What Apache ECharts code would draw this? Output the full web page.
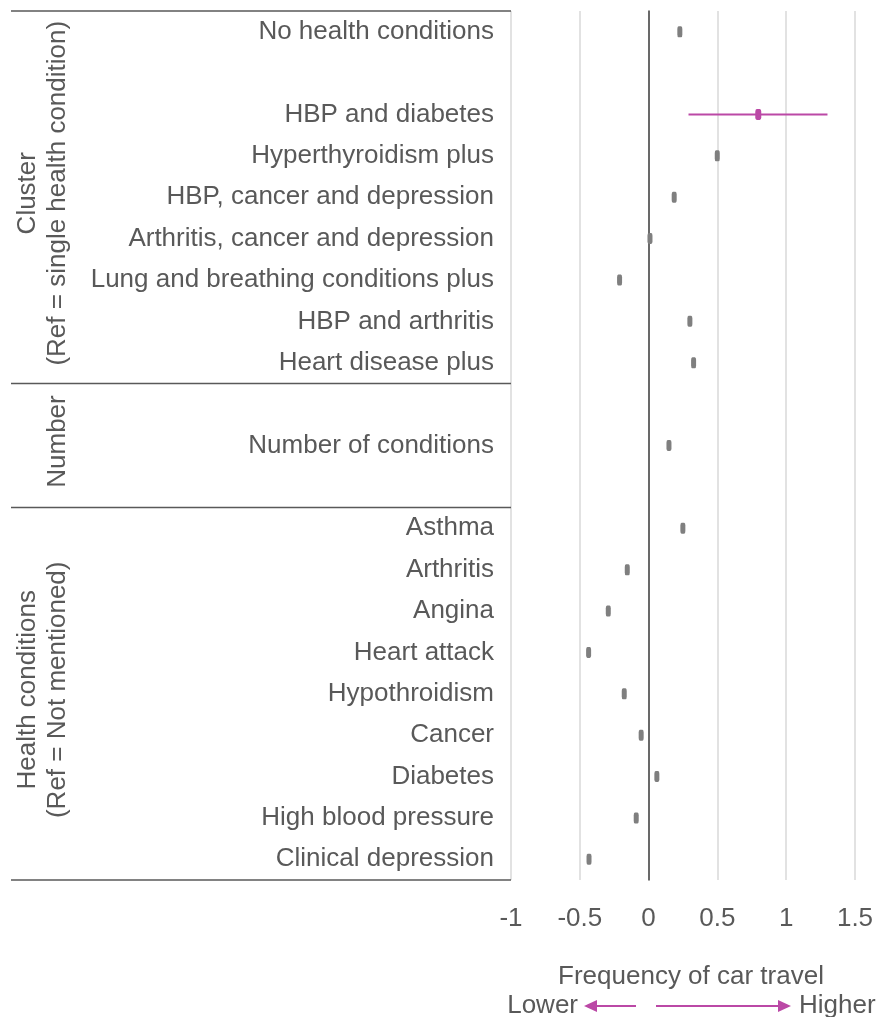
<!DOCTYPE html>
<html>
<head>
<meta charset="utf-8">
<script src="https://cdn.jsdelivr.net/npm/echarts@6/dist/echarts.min.js"></script>
<style>
html,body{margin:0;padding:0;background:#fff;}
#main{width:879px;height:1017px;}
</style>
</head>
<body>
<div id="main"></div>
<script>
// ---- data ----
const categories = [
  'No health conditions', ' ', 'HBP and diabetes', 'Hyperthyroidism plus',
  'HBP, cancer and depression', 'Arthritis, cancer and depression',
  'Lung and breathing conditions plus', 'HBP and arthritis', 'Heart disease plus',
  '  ', 'Number of conditions', '   ',
  'Asthma', 'Arthritis', 'Angina', 'Heart attack', 'Hypothroidism', 'Cancer',
  'Diabetes', 'High blood pressure', 'Clinical depression'
];
const estimates = [
  0.227, null, 0.797, 0.499, 0.186, 0.01, -0.211, 0.30, 0.327,
  null, 0.148, null,
  0.249, -0.155, -0.293, -0.436, -0.177, -0.054, 0.06, -0.09, -0.433
];
const ciCategories = ['HBP and diabetes'];
const ciLower = [0.29];
const ciUpper = [1.30];
const xTicks = [-1, -0.5, 0, 0.5, 1, 1.5];
const groupNames = [
  ['Cluster', '(Ref = single health condition)'],
  ['Number'],
  ['Health conditions', '(Ref = Not mentioned)']
];
const groupFirst = ['No health conditions', '  ', 'Asthma'];
const groupLast = ['Heart disease plus', '   ', 'Clinical depression'];
const axisTitle = 'Frequency of car travel';
const lowLabel = 'Lower';
const highLabel = 'Higher';

// ---- style ----
const FONT = "'Liberation Sans', Arial, sans-serif";
const TXT = '#595959';
const PINK = '#bb48a6';
const GREY = '#7f7f7f';
const FS = 26;

const chart = echarts.init(document.getElementById('main'), null, {renderer: 'canvas'});

const pointData = categories.map((c, i) => estimates[i] == null ? null : [estimates[i], i]);
const ciData = ciCategories.map((c, k) => [ciLower[k], ciUpper[k], categories.indexOf(c)]);

const option = {
  animation: false,
  textStyle: {fontFamily: FONT},
  grid: {left: 511, right: 24, top: 11, bottom: 137, containLabel: false},
  xAxis: {
    type: 'value',
    min: xTicks[0], max: xTicks[xTicks.length - 1], interval: 0.5,
    axisLine: {show: false},
    axisTick: {show: false},
    axisLabel: {color: TXT, fontSize: FS, fontFamily: FONT, margin: 26,
      formatter: v => String(v)},
    splitLine: {show: true, lineStyle: {color: '#d9d9d9', width: 1.5}}
  },
  yAxis: {
    type: 'category',
    data: categories,
    inverse: true,
    axisLine: {show: true, onZero: true, lineStyle: {color: '#404040', width: 1.5}},
    axisTick: {show: false},
    axisLabel: {color: TXT, fontSize: FS, fontFamily: FONT, margin: 17, padding: [4, 0, 0, 0]},
    splitLine: {show: false}
  },
  series: [
    {
      type: 'custom',
      name: 'CI',
      data: ciData,
      z: 3,
      renderItem: function (params, api) {
        const p1 = api.coord([api.value(0), api.value(2)]);
        const p2 = api.coord([api.value(1), api.value(2)]);
        return {
          type: 'line',
          shape: {x1: p1[0], y1: p1[1], x2: p2[0], y2: p2[1]},
          style: {stroke: PINK, lineWidth: 2}
        };
      }
    },
    {
      type: 'scatter',
      name: 'Estimate',
      data: pointData,
      z: 5,
      symbol: 'roundRect',
      symbolSize: function (v, p) {
        return ciCategories.indexOf(categories[p.dataIndex]) >= 0 ? [6, 11] : [5, 11];
      },
      itemStyle: {
        opacity: 1,
        color: function (p) {
          return ciCategories.indexOf(categories[p.dataIndex]) >= 0 ? PINK : GREY;
        }
      }
    }
  ]
};
chart.setOption(option);

// ---- decorations: group separators, group labels, axis title, arrows ----
function yc(i) { return chart.convertToPixel({yAxisIndex: 0}, i); }
const band = yc(1) - yc(0);
const gridLeft = chart.convertToPixel({xAxisIndex: 0}, xTicks[0]);
const lineX0 = 11;
const graphics = [];
const boundaries = new Set();
groupNames.forEach((names, g) => {
  const i0 = categories.indexOf(groupFirst[g]);
  const i1 = categories.indexOf(groupLast[g]);
  const top = yc(i0) - band / 2;
  const bot = yc(i1) + band / 2;
  boundaries.add(Math.round(top * 2) / 2);
  boundaries.add(Math.round(bot * 2) / 2);
  const mid = (top + bot) / 2 - 4;
  names.forEach((t, k) => {
    const x = 58 - (names.length - 1 - k) * 30;
    graphics.push({
      type: 'text', x: x, y: mid, rotation: Math.PI / 2,
      style: {text: t, fill: TXT, font: FS + 'px ' + FONT, align: 'center', verticalAlign: 'middle'}
    });
  });
});
boundaries.forEach(y => {
  graphics.push({
    type: 'line',
    shape: {x1: lineX0, y1: y, x2: gridLeft, y2: y},
    style: {stroke: '#595959', lineWidth: 1.5}
  });
});
// axis title
graphics.push({
  type: 'text', x: 691, y: 977,
  style: {text: axisTitle, fill: TXT, font: FS + 'px ' + FONT, align: 'center', verticalAlign: 'middle'}
});
graphics.push({
  type: 'text', x: 578, y: 1006,
  style: {text: lowLabel, fill: TXT, font: FS + 'px ' + FONT, align: 'right', verticalAlign: 'middle'}
});
graphics.push({
  type: 'text', x: 799, y: 1006,
  style: {text: highLabel, fill: TXT, font: FS + 'px ' + FONT, align: 'left', verticalAlign: 'middle'}
});
// arrows
const ay = 1006;
graphics.push({type: 'line', shape: {x1: 636, y1: ay, x2: 592, y2: ay}, style: {stroke: PINK, lineWidth: 2}});
graphics.push({type: 'polygon', shape: {points: [[584, ay], [597, ay - 6], [597, ay + 6]]}, style: {fill: PINK}});
graphics.push({type: 'line', shape: {x1: 656, y1: ay, x2: 780, y2: ay}, style: {stroke: PINK, lineWidth: 2}});
graphics.push({type: 'polygon', shape: {points: [[791, ay], [778, ay - 6], [778, ay + 6]]}, style: {fill: PINK}});

chart.setOption({graphic: {elements: graphics}});
</script>
</body>
</html>
